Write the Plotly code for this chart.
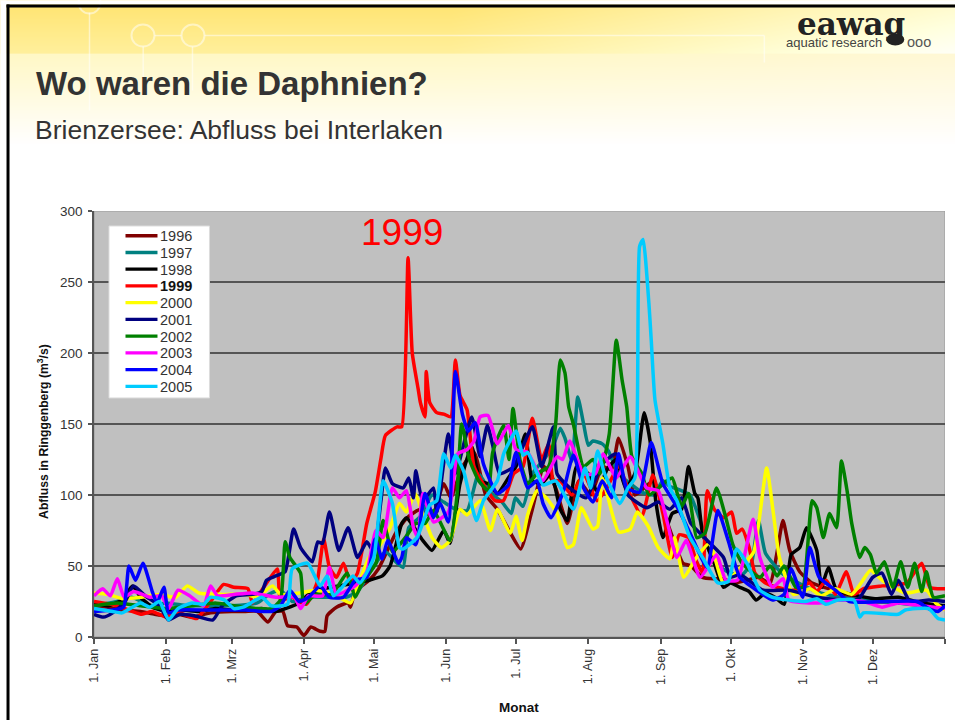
import base64, zlib, struct
import numpy as np
import plotly.graph_objects as go

MONTH_DAYS = [0, 31, 59, 90, 120, 151, 181, 212, 243, 273, 304, 334, 365]
MONTH_LABELS = ["1. Jan", "1. Feb", "1. Mrz", "1. Apr", "1. Mai", "1. Jun", "1. Jul", "1. Aug", "1. Sep", "1. Okt", "1. Nov", "1. Dez", ""]
Y_TICKS = [0, 50, 100, 150, 200, 250, 300]

Q1996 = [(0,22),(6,21),(12,19),(20,18),(26,16),(31,15),(36,16),(42,14),(50,17),(59,18),(65,18),(70,18),(74.6,10.5),(78,18),(81,18),(83,8),(87,7),(90,1),(93,7),(97,4),(99,4),(100,15),(104,21),(109,24),(110,21),(112,32),(118,40),(122,48),(130,75),(135,85),(140,90),(145,85),(150,108),(153,98),(158,120),(163,130),(168,100),(173,90),(178,75),(183,62),(188,90),(193,120),(198,105),(203,80),(208,110),(213,100),(218,120),(222,118),(225,140),(229,120),(232,100),(240,110),(245,85),(250,62),(252.6,52),(256,50),(261,42),(266,41),(270,41),(274,38),(280,40),(285,42),(290,38),(293,60),(295.5,82),(298.4,61),(302.7,46),(308,38),(315,34),(325,28),(335,25),(350,24),(365,21)]
Q1997 = [(0,22),(10,25),(16,28),(25,22),(31,24),(40,22),(50,22),(59,22),(70,24),(75,30),(80,33),(85,25),(92,28),(100,28),(108,28),(113,32),(120,50),(125,60),(130,52),(132.6,49),(135,77),(140,85),(145,100),(150,95),(155,90),(160,89),(165,115),(170,102),(175,95),(179,87),(180.7,98),(184,92),(188,115),(193,125),(197,135),(200,147),(202,140),(205,124),(207.5,169),(210,150),(212,135),(214,138),(218,136),(220.6,131),(225,115),(230,108),(235,102),(240,100),(244,110),(247,106),(250.6,104),(255.6,100),(260,82),(264,60),(268,50),(273,45),(278,44),(282,52),(285,82),(288,59),(295,45),(300,40),(310,32),(320,28),(330,26),(345,24),(365,20)]
Q1998 = [(0,24),(6,22),(12,26),(16.5,36),(20,28),(25,21),(31,18),(38,19),(45,18),(52,20),(59,19),(66,19),(72,20),(78,18),(82,20),(88,24),(92,30),(98,34),(105,36),(112,38),(118,40),(123.7,43),(127,50),(132,80),(134,84),(137,78),(141,68),(145,61),(150,75),(152.7,66),(157,108),(162,134),(165.6,110),(169,108),(173,101),(177.7,112),(181,120),(185,143),(188,110),(192,108),(196,115),(200,90),(203,82),(207,120),(212,115),(216,102),(220,118),(224,125),(228,105),(232,115),(236,158),(238.5,138),(241,95),(244,70),(248,87),(252,90),(255,120),(257.7,101),(259,98),(261,73),(266,52),(270,35),(273,38),(277,35),(281,32),(284,26),(288,31),(292,28),(296,23),(299,58),(302.7,63),(305.6,77),(310,61),(312,35),(315,49),(318.5,33),(325,30),(335,27),(345,28),(355,24),(365,22)]
Q1999 = [(0,25),(10,22),(20,16),(25,18),(31,14),(35,18),(40,15),(44,13),(50,25),(55.6,37),(60,35),(66,34),(68,24),(72,33),(78.6,48),(80,26),(85,28),(91,23),(95.6,38),(98.5,69),(101,49),(104,42),(107,52),(110,38),(113,45),(117,80),(120.6,102),(123,125),(125,142),(130,148),(132,148),(134.7,267),(136.5,200),(139,175),(140,165),(142,155),(142.5,187),(144,165),(147,158),(150,157),(153,155),(155,195),(157,170),(160,160),(163,120),(168,105),(172,96),(175.6,96),(180,115),(184,120),(188,154),(192,125),(195,136),(197,110),(200,110),(205,100),(210,115),(215.7,96),(220,105),(225,120),(230,100),(235,85),(239.7,114),(244,87),(248,56),(251,72),(255,70),(258,55),(261,45),(263,103),(266,90),(270,84),(273.5,88),(275.6,73),(278,76),(281,63),(283.5,45),(288,38),(293,35),(300,33),(307,38),(310,32),(314,40),(318,30),(322.7,46),(326,30),(330,34),(338,36),(348.5,38),(355,52),(358.5,35),(362,34),(365,34)]
Q2000 = [(0,31),(6,30),(12,27),(20,28),(28,30),(35,28),(40,36),(45,31),(55,30),(65,30),(70,28),(76.5,36),(80,30),(88,31),(95,33),(103,30),(110,24),(114,40),(118,56),(122,63),(127,77),(131,94),(134,88),(137.7,101),(141,87),(145,70),(149,63),(152.7,68),(157,90),(160,86),(165.6,96),(170,75),(173,90),(178.5,73),(181,85),(183.6,68),(186,86),(190,103),(194,98),(198.6,87),(203,63),(205.6,65),(209,91),(214,76),(216,78),(218,112),(225,74),(230,76),(233,88),(237.7,78),(242,63),(247,55),(249,70),(253,42),(258,55),(264,66),(270,38),(278,50),(283,60),(288.5,119),(291.4,87),(294,56),(300,30),(307,34),(312,29),(318,34),(325,30),(329,38),(333,47),(338,40),(348,31),(357,33),(361,24),(365,19)]
Q2001 = [(0,16),(4,14),(8,17),(13,24),(17,36),(22,29),(28,22),(31,14),(32,12),(37,16),(43,15),(51,12),(55,22),(61,29),(68,30),(72,32),(74,40),(78,43),(82,46),(85.6,76),(88.6,63),(93.6,53),(96,67),(98,66),(101,88),(105,61),(109,77),(113,56),(117,67),(120,60),(123,95),(125,119),(128,108),(132.6,105),(135,112),(137,98),(138,117),(141,96),(145.6,105),(147,88),(152,143),(155,115),(162,155),(165.6,127),(168.7,149),(171,135),(174,115),(180,120),(188,148),(192,120),(197,148),(198.6,115),(204,105),(211,98),(218,122),(224,129),(229,100),(237,91),(242,95),(247,90),(252,98),(256,80),(263,68),(270,56),(273,42),(277,44),(287,33),(298,33),(310,28),(322,26),(328,27),(334,42),(338,45),(342,30),(345,40),(350,25),(358,26),(365,25)]
Q2002 = [(0,22),(10,24),(20,22),(31,20),(42,22),(52,24),(60,22),(70,20),(76,20),(80,26),(82,67),(84,56),(88.6,45),(90,23),(95,30),(102,30),(108.6,45),(112,28),(115,38),(121,52),(124,82),(128,60),(133.5,70),(138,80),(142,80),(145.6,89),(152.7,68),(155.6,98),(157.7,150),(161,125),(165,110),(169,103),(171,130),(175.7,149),(178,125),(179.7,161),(182.8,124),(186,108),(190,115),(195,120),(198,150),(200,195),(202,186),(203.6,162),(205.6,150),(210,120),(214,125),(217,115),(221,143),(224,209),(226.5,181),(228.5,162),(230.7,127),(235,115),(238,100),(245.7,110),(248,112),(252,92),(255,101),(258.5,70),(262,73),(267,105),(271,84),(274,65),(278,52),(285.6,42),(290,50),(293,43),(296,50),(301,35),(304,35),(308,96),(310,91),(312.8,70),(315.5,87),(318.5,77),(320.6,124),(323,103),(325,80),(328.4,56),(330.6,63),(333,58),(335.6,45),(339,53),(342.7,35),(346,53),(349,35),(352,52),(355,32),(357,46),(360,28),(365,29)]
Q2003 = [(0,29),(3.7,34),(7,29),(10,41),(13,28),(17,32),(24,28),(29,29),(32,20),(36,33),(41,29),(47,22),(50,36),(53,29),(60,30),(68,31),(78,28),(86,28),(88.6,20),(92,29),(98,29),(101,49),(104,30),(112,36),(117,46),(121,75),(124,70),(128,105),(131,98),(134,103),(137,77),(139,70),(141,101),(145.6,81),(152,88),(156,129),(160,132),(163,138),(165.6,155),(169,156),(173,136),(177.7,149),(181,132),(186,130),(192.5,110),(198.6,127),(201,125),(204,138),(210,115),(215,115),(218.4,129),(224,112),(230,127),(237,105),(242,103),(246,80),(250,56),(254,68),(260,42),(267,58),(271,40),(276,40),(282.7,83),(285.6,56),(291,35),(295.6,41),(298,26),(310,24),(320,26),(330,25),(338,21),(345,24),(355,22),(365,20)]
Q2004 = [(0,18),(8,19),(12.7,21),(15,50),(17.8,40),(21,52),(25,32),(27,24),(30,35),(32,17),(36,19),(50,19),(65,19),(76,18),(80,22),(84,33),(88,25),(92,28),(97,36),(101,28),(107,28),(112,40),(117,42),(120.6,69),(123.6,55),(126,68),(130.6,52),(132,56),(134,70),(138,65),(142,101),(145.6,84),(148.5,94),(152,81),(155,187),(158,157),(160.5,145),(163.5,151),(167,122),(173,101),(177.7,107),(181,130),(186,105),(190,110),(192.6,94),(196,84),(201,101),(205.6,128),(210,105),(214,95),(218,110),(222,98),(225,129),(228.5,105),(234,102),(239,137),(244,108),(251,89),(256,72),(263,49),(267.6,89),(272,68),(277,42),(285,32),(291,26),(296,30),(299,48),(304,28),(307,63),(311,42),(318,33),(324,25),(340,25),(353,25),(358,20),(362,18),(365,22)]
Q2005 = [(0,20),(8,18),(12,17),(20,24),(24,21),(28,25),(32,12),(36,20),(42,24),(47,23),(50,28),(56,26),(60,20),(64,21),(72,28),(76,22),(83,23),(85,48),(91.6,52),(97,36),(100,43),(102.7,29),(111,43),(114,38),(120,56),(124,110),(128,94),(131,63),(132.6,62),(138.5,70),(144,93),(147,96),(150,129),(153,119),(155,128),(158.5,117),(164,82),(167,96),(173,110),(175.7,129),(181,145),(184,128),(186,130),(192.6,107),(198,110),(205.6,90),(210.6,119),(213,105),(216,131),(219,115),(225.6,94),(229,105),(232,112),(234,275),(235.5,280),(238,235),(239,209),(240.6,167),(244,136),(247,105),(250,96),(255.6,70),(261,56),(267.6,38),(272,39),(275.6,62),(280,52),(285.6,33),(291,28),(298,26),(305,25),(310,27),(314,23),(319,26),(326,26),(328.5,14),(330,17),(345,16),(348,19),(358,20),(362,13),(365,12)]

YEARS = ["1996", "1997", "1998", "1999", "2000", "2001", "2002", "2003", "2004", "2005"]
SERIES = [Q1996, Q1997, Q1998, Q1999, Q2000, Q2001, Q2002, Q2003, Q2004, Q2005]
COLORS = ["#800000", "#008080", "#000000", "#FF0000", "#FFFF00", "#000080", "#008000", "#FF00FF", "#0000FF", "#00CCFF"]

W, H = 955, 720
PL, PR, PT, PB = 93.5, 944.7, 210.5, 636.7
FONT = "Liberation Sans, Arial, sans-serif"


def header_png():
    h = 150
    x = np.arange(W, dtype=float)[None, :]
    y = np.arange(h, dtype=float)[:, None]
    s = np.clip((x - 450) / 500, 0, 1)
    u = np.clip(y / 53, 0, 1)
    f = np.clip((y - 53) / 90, 0, 1)
    top = y < 53
    r = np.full((h, W), 255.0)
    g = np.where(top, 228 + 12 * u + 22 * s, 248 + 7 * f)
    b = np.where(top, 112 + 45 * u + 90 * s, 198 + 57 * f + 15 * s * (1 - f))
    rgb = np.clip(np.dstack([r, g, b]), 0, 255).astype(np.uint8)
    raw = b"".join(b"\x00" + rgb[i].tobytes() for i in range(h))
    def chunk(t, d):
        return struct.pack(">I", len(d)) + t + d + struct.pack(">I", zlib.crc32(t + d) & 0xffffffff)
    png = b"\x89PNG\r\n\x1a\n" + chunk(b"IHDR", struct.pack(">IIBBBBB", W, h, 8, 2, 0, 0, 0)) + chunk(b"IDAT", zlib.compress(raw)) + chunk(b"IEND", b"")
    return "data:image/png;base64," + base64.b64encode(png).decode()


fig = go.Figure()
for year, pts, col in zip(YEARS, SERIES, COLORS):
    days = [p[0] for p in pts]
    vals = [p[1] for p in pts]
    fig.add_trace(go.Scatter(x=days, y=vals, mode="lines", name=year,
                             line=dict(color=col, width=3.5, shape="spline", smoothing=0.5),
                             showlegend=False))

# paper coordinates are relative to the plot area
def px(x): return (x - PL) / (PR - PL)
def py(y): return (PB - y) / (PB - PT)

shapes = []
annos = []

def ptext(x, y, text, size, color="#333333", anchor="left", angle=0, family=FONT):
    annos.append(dict(xref="paper", yref="paper", x=px(x), y=py(y), text=text, showarrow=False,
                      xanchor=anchor, yanchor="middle", textangle=angle,
                      font=dict(size=size, color=color, family=family)))

def rect(x0, y0, x1, y1, fill, layer="above", line=None):
    shapes.append(dict(type="rect", xref="paper", yref="paper", x0=px(x0), x1=px(x1), y0=py(y0), y1=py(y1),
                       fillcolor=fill, line=line or dict(width=0), layer=layer))

def pline(x0, y0, x1, y1, col, w, layer="below"):
    shapes.append(dict(type="line", xref="paper", yref="paper", x0=px(x0), x1=px(x1), y0=py(y0), y1=py(y1),
                       line=dict(color=col, width=w), layer=layer))

def ellipse(x0, y0, x1, y1, fill=None, line=None, layer="below"):
    shapes.append(dict(type="circle", xref="paper", yref="paper", x0=px(x0), x1=px(x1), y0=py(y1), y1=py(y0),
                       fillcolor=fill or "rgba(0,0,0,0)", line=line or dict(width=0), layer=layer))

# slide frame
rect(0, 0, 6, H, "#FFFFFF")
rect(0, 0, W, 4, "#FFFFFF")
rect(6, 4, 9, H, "#000000")
rect(6, 4, W, 7, "#000000")

# circuit decoration
deco = "rgba(255,255,255,0.5)"
pline(89, 12, 89, 110, deco, 1.5)
ellipse(78, -9, 100, 13, line=dict(color=deco, width=2))
ellipse(131, 24, 154, 46, line=dict(color=deco, width=2))
ellipse(181, 24, 204, 46, line=dict(color=deco, width=2))
pline(154, 35, 181, 35, deco, 1.5)
pline(204, 35, 764, 35, deco, 1.5)
pline(764, 35, 764, 62, deco, 1.5)
pline(142.7, 46, 142.7, 80, deco, 1.5)
pline(192, 46, 192, 90, deco, 1.5)

ptext(33, 83, "<b>Wo waren die Daphnien?</b>", 33)
ptext(32, 129.5, "Brienzersee: Abfluss bei Interlaken", 26.5)

# logo
ptext(851, 23, "<b>eawag</b>", 31, color="#222222", anchor="center", family="DejaVu Serif")
ptext(834, 41.5, "aquatic research", 13, color="#444444", anchor="center")
ellipse(886, 33, 904, 45, fill="#222222", layer="above")
ptext(905, 41.5, "ooo", 14.5, color="#555555")

# legend
rect(108.5, 225.5, 209, 397.5, "#FFFFFF", line=dict(color="#DDDDDD", width=1))
for i, (year, col) in enumerate(zip(YEARS, COLORS)):
    yy = 235.2 + i * 16.75
    pline(125, yy, 157, yy, col, 3.4, layer="above")
    ptext(158, yy + 0.5, f"<b>{year}</b>" if year == "1999" else year, 14.5, color="#111111" if year == "1999" else "#333333")

# labels
ptext(402, 232, "1999", 37, color="#FF0000", anchor="center")
ptext(43, 431, "<b>Abfluss in Ringgenberg (m<sup>3</sup>/s)</b>", 12.2, color="#111111", anchor="center", angle=-90)
ptext(519, 707, "<b>Monat</b>", 13.5, color="#111111", anchor="center")

fig.update_layout(
    width=W, height=H, autosize=False,
    margin=dict(l=PL, r=W - PR, t=PT, b=H - PB, pad=0),
    paper_bgcolor="#FFFFFF", plot_bgcolor="#C0C0C0",
    showlegend=False, shapes=shapes, annotations=annos,
    font=dict(family=FONT, size=12, color="#333333"),
    images=[dict(source=header_png(), xref="paper", yref="paper", x=px(0), y=py(0), sizex=px(W) - px(0), sizey=py(0) - py(150),
                 xanchor="left", yanchor="top", sizing="stretch", layer="below")],
    xaxis=dict(range=[0, 365], tickmode="array", tickvals=MONTH_DAYS, ticktext=MONTH_LABELS,
               tickangle=-90, ticks="outside", ticklen=5, tickwidth=1.5, tickcolor="#555555",
               showgrid=False, showline=True, linecolor="#555555", linewidth=1.5, zeroline=False,
               tickfont=dict(size=12.5, color="#333333"), automargin=False, fixedrange=True),
    yaxis=dict(range=[0, 300], tickmode="array", tickvals=Y_TICKS, ticks="outside", ticklen=4,
               tickwidth=1.5, tickcolor="#555555", showgrid=True, gridcolor="#555555", gridwidth=1.5,
               showline=True, linecolor="#555555", linewidth=1.5, zeroline=False, ticklabelstandoff=3,
               tickfont=dict(size=13.5, color="#333333"), automargin=False, fixedrange=True),
)
fig.add_shape(type="rect", xref="x", yref="y", x0=0, x1=365, y0=0, y1=300,
              line=dict(color="#999999", width=1), layer="below")

fig.write_html("out.html", config=dict(displayModeBar=False),
               post_script="document.body.style.margin='0';document.body.style.overflow='hidden';")
